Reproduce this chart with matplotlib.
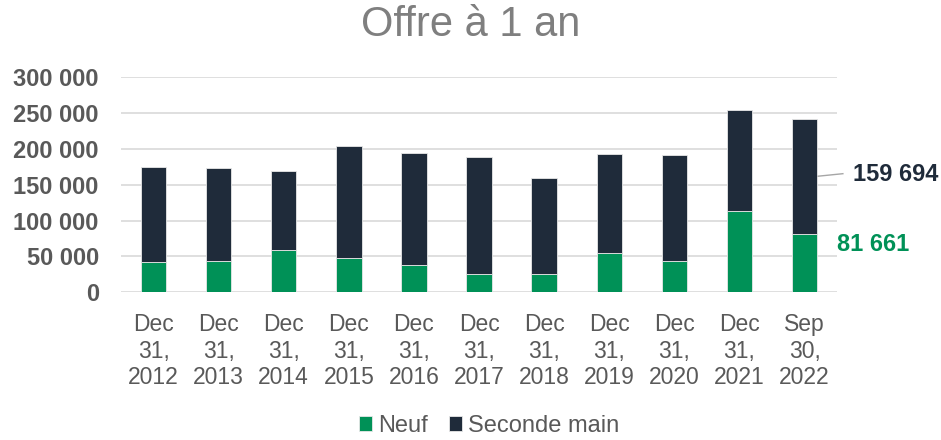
import matplotlib
matplotlib.use("Agg")
import matplotlib.pyplot as plt
from matplotlib.ticker import FuncFormatter, MultipleLocator

categories = ["Dec\n31,\n2012", "Dec\n31,\n2013", "Dec\n31,\n2014", "Dec\n31,\n2015",
              "Dec\n31,\n2016", "Dec\n31,\n2017", "Dec\n31,\n2018", "Dec\n31,\n2019",
              "Dec\n31,\n2020", "Dec\n31,\n2021", "Sep\n30,\n2022"]
neuf = [41900, 43700, 59000, 48300, 38100, 25100, 26000, 54800, 43700, 113400, 81661]
totals = [174400, 173000, 168800, 203700, 193900, 188300, 159000, 192500, 191100, 254300, 241355]
seconde = [t - n for t, n in zip(totals, neuf)]
seconde[-1] = 159694

GREEN = "#009157"
DARK = "#1f2b3a"
GRAY = "#595959"

plt.rcParams['font.family'] = ['Liberation Sans', 'DejaVu Sans']

fig = plt.figure(figsize=(9.41, 4.40), dpi=100)
ax = fig.add_axes([0.1286, 0.3357, 0.7609, 0.4886])

x = list(range(len(categories)))
w = 0.39
ax.bar(x, neuf, width=w, color=GREEN, edgecolor="#e8e8e8", linewidth=0.6, label="Neuf", zorder=3)
ax.bar(x, seconde, width=w, bottom=neuf, color=DARK, edgecolor="#e8e8e8", linewidth=0.6,
       label="Seconde main", zorder=3)

ax.set_xlim(-0.5, len(categories) - 0.5)
ax.set_ylim(0, 300000)
ax.yaxis.set_major_locator(MultipleLocator(50000))
ax.yaxis.set_major_formatter(FuncFormatter(lambda v, p: f"{int(v):,}".replace(",", " ")))
ax.grid(axis="y", color="#d9d9d9", linewidth=1.2, zorder=0)
for s in ax.spines.values():
    s.set_visible(False)
ax.tick_params(axis="y", length=0, pad=16, labelsize=17, labelcolor=GRAY)
ax.tick_params(axis="x", length=0, pad=15, labelsize=16.5, labelcolor=GRAY)
for lab in ax.get_yticklabels():
    lab.set_fontweight("bold")
ax.set_xticks(x)
ax.set_xticklabels(categories, linespacing=1.2)

# data labels for last bar
last = len(categories) - 1
ax.plot([last + 0.21, last + 0.59], [162000, 165500], color="#a6a6a6", linewidth=1,
        clip_on=False, zorder=4)
ax.text(last + 0.74, 164000, f"{seconde[-1]:,}".replace(",", " "), color=DARK,
        fontsize=17, fontweight="bold", va="center", ha="left", clip_on=False)
ax.text(last + 0.5, 67000, f"{neuf[-1]:,}".replace(",", " "), color=GREEN,
        fontsize=17, fontweight="bold", va="center", ha="left", clip_on=False)

fig.text(0.5, 0.944, "Offre à 1 an", ha="center", va="center", fontsize=30, color="#7f7f7f")

leg = fig.legend(loc="center", bbox_to_anchor=(0.52, 0.032), ncol=2, frameon=False,
                 fontsize=17, handlelength=0.55, handleheight=0.55, handletextpad=0.25,
                 columnspacing=0.9, labelcolor=GRAY)

fig.savefig("out.png", dpi=100)
